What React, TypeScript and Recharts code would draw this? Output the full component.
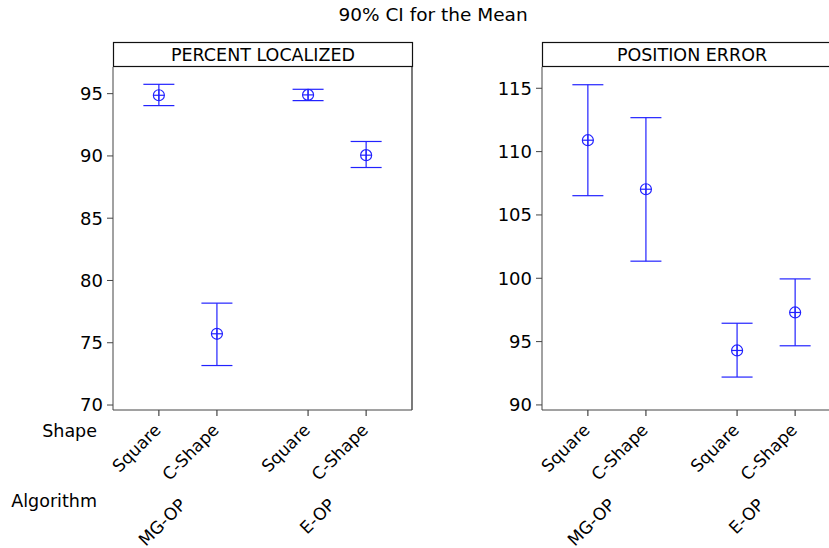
import React from "react";
import { ComposedChart, Scatter, ErrorBar, XAxis, YAxis, ReferenceLine } from "recharts";

const FONT = "'DejaVu Sans', Tahoma, sans-serif";
const BLUE = "#2222ff";
const AXIS = "#444444";

const shapes = ["Square", "C-Shape"];
const algorithms = ["MG-OP", "E-OP"];

// order: MG-OP/Square, MG-OP/C-Shape, E-OP/Square, E-OP/C-Shape
const localizedMean = [94.87, 75.72, 94.9, 90.06];
const localizedLower = [94.04, 73.17, 94.44, 89.07];
const localizedUpper = [95.75, 78.18, 95.35, 91.16];
const localizedTicks = [70, 75, 80, 85, 90, 95];

const errorMean = [110.9, 107.03, 94.3, 97.3];
const errorLower = [106.52, 101.35, 92.2, 94.67];
const errorUpper = [115.28, 112.68, 96.45, 99.95];
const errorTicks = [90, 95, 100, 105, 110, 115];

// x layout: shapes one unit apart, groups separated by a wider gap
const GROUP_STEP = 2.57;
const EDGE = 0.79;
const positions = algorithms.flatMap((_, g) => shapes.map((_, i) => g * GROUP_STEP + i));
const groupCenters = algorithms.map((_, g) => g * GROUP_STEP + 0.5);
const allTicks = [...positions, ...groupCenters].sort((a, b) => a - b);
const X_MIN = -EDGE;
const X_MAX = positions[positions.length - 1] + EDGE;

const near = (list: number[], v: number) => list.findIndex((p) => Math.abs(p - v) < 1e-6);

const CrossCircle = (props: any) => {
  const { cx, cy } = props;
  const r = 5.5;
  return (
    <g>
      <circle cx={cx} cy={cy} r={r} fill="none" stroke={BLUE} strokeWidth={1.2} />
      <line x1={cx - r} y1={cy} x2={cx + r} y2={cy} stroke={BLUE} strokeWidth={1.2} />
      <line x1={cx} y1={cy - r} x2={cx} y2={cy + r} stroke={BLUE} strokeWidth={1.2} />
    </g>
  );
};

// two label rows on one axis: shape ticks (with tick mark) and algorithm group labels below
const TwoRowTick = ({ x, y, payload }: any) => {
  const s = near(positions, payload.value);
  if (s >= 0) {
    const ax = x + 3;
    const ay = y + 21;
    return (
      <g>
        <line x1={x} y1={y} x2={x} y2={y + 6} stroke={AXIS} strokeWidth={1.2} />
        <text x={ax} y={ay} transform={`rotate(-45, ${ax}, ${ay})`} textAnchor="end"
          fontFamily={FONT} fontSize={17} fill="#000">
          {shapes[s % shapes.length]}
        </text>
      </g>
    );
  }
  const g = near(groupCenters, payload.value);
  const ax = x - 1;
  const ay = y + 96;
  return (
    <text x={ax} y={ay} transform={`rotate(-45, ${ax}, ${ay})`} textAnchor="end"
      fontFamily={FONT} fontSize={17} fill="#000">
      {algorithms[g < 0 ? 0 : g]}
    </text>
  );
};

interface PanelProps {
  left: number;
  mean: number[];
  lower: number[];
  upper: number[];
  ticks: number[];
  domain: [number, number];
}

const Panel = ({ left, mean, lower, upper, ticks, domain }: PanelProps) => {
  const data = mean.map((m, i) => ({
    pos: positions[i],
    mean: m,
    ci: [m - lower[i], upper[i] - m],
  }));
  return (
    <div style={{ position: "absolute", left, top: 0 }}>
      <ComposedChart width={420} height={548} data={data}
        margin={{ top: 67, right: 8, bottom: 0, left: 0 }}>
        <XAxis type="number" dataKey="pos" domain={[X_MIN, X_MAX]}
          allowDataOverflow ticks={allTicks} interval={0} height={138}
          stroke={AXIS} tickLine={false} tickSize={0} tickMargin={0} tick={<TwoRowTick />} />
        <YAxis type="number" dataKey="mean" domain={domain} allowDataOverflow
          ticks={ticks} interval={0} width={113} stroke={AXIS} tickSize={6} tickMargin={4}
          tick={{ fill: "#000", fontSize: 18, fontFamily: FONT }} />
        <ReferenceLine x={X_MAX} stroke="#222" strokeWidth={1.2} />
        <Scatter dataKey="mean" shape={<CrossCircle />} isAnimationActive={false}>
          <ErrorBar dataKey="ci" direction="y" width={15.5} stroke={BLUE} strokeWidth={1.2}
            isAnimationActive={false} />
        </Scatter>
      </ComposedChart>
    </div>
  );
};

const HeaderBox = ({ x, label }: { x: number; label: string }) => (
  <g>
    <rect x={x + 0.5} y={42.5} width={299} height={24} fill="#fff" stroke="#111" strokeWidth={1.2} />
    <text x={x + 150} y={61} textAnchor="middle" fontFamily={FONT} fontSize={17.5} fill="#000">
      {label}
    </text>
  </g>
);

export default function App() {
  return (
    <div style={{ position: "absolute", left: 0, top: 0, width: 829, height: 548,
      overflow: "hidden", background: "#fff" }}>
      <Panel left={0} mean={localizedMean} lower={localizedLower} upper={localizedUpper}
        ticks={localizedTicks} domain={[69.6, 97.14]} />
      <Panel left={429} mean={errorMean} lower={errorLower} upper={errorUpper}
        ticks={errorTicks} domain={[89.6, 116.68]} />
      <svg width={829} height={548} style={{ position: "absolute", left: 0, top: 0, pointerEvents: "none" }}>
        <text x={433} y={21} textAnchor="middle" fontFamily={FONT} fontSize={18.5} fill="#000">
          90% CI for the Mean
        </text>
        <HeaderBox x={113} label="PERCENT LOCALIZED" />
        <HeaderBox x={542} label="POSITION ERROR" />
        <text x={97} y={437} textAnchor="end" fontFamily={FONT} fontSize={17.5} fill="#000">Shape</text>
        <text x={97} y={507} textAnchor="end" fontFamily={FONT} fontSize={17.5} fill="#000">Algorithm</text>
      </svg>
    </div>
  );
}
